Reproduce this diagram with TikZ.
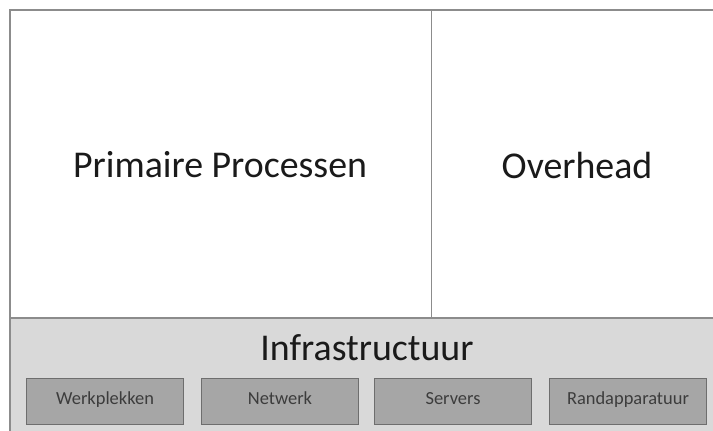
\documentclass[tikz,border=0pt]{standalone}
\usepackage{fontspec}
\setmainfont{Carlito}
\definecolor{frame}{HTML}{8C8C8C}
\definecolor{band}{HTML}{D9D9D9}
\definecolor{boxfill}{HTML}{A6A6A6}
\definecolor{boxline}{HTML}{6E6E6E}
\definecolor{txt}{HTML}{1A1A1A}
\begin{document}
\begin{tikzpicture}[x=1bp,y=-1bp,
  panel/.style={draw=frame,line width=1.5bp,fill=white},
  subbox/.style={draw=boxline,line width=1bp,fill=boxfill,minimum width=157bp,minimum height=46bp,inner sep=0pt,anchor=north west,font=\fontsize{18.5}{20}\selectfont,text=txt!85,text height=0.78em,text depth=0.08em},
  big/.style={font=\fontsize{38}{42}\selectfont,text=txt}]
\useasboundingbox (0,0) rectangle (713,430);
\fill[white] (0,0) rectangle (713,430);
\filldraw[panel] (10,10) rectangle (716,318);
\draw[draw=frame,line width=1bp] (431,10) -- (431,318);
\filldraw[draw=frame,line width=1.5bp,fill=band] (10,318) rectangle (716,434);
\node[big] (pp) at (220,165) {Primaire Processen};
\node[big] (oh) at (577,165) {Overhead};
\node[big] (inf) at (367,348) {Infrastructuur};
\node[subbox] (w) at (26,378) {Werkplekken};
\node[subbox] (n) at (201,378) {Netwerk};
\node[subbox] (s) at (374,378) {Servers};
\node[subbox] (r) at (549,378) {Randapparatuur};
\end{tikzpicture}
\end{document}
